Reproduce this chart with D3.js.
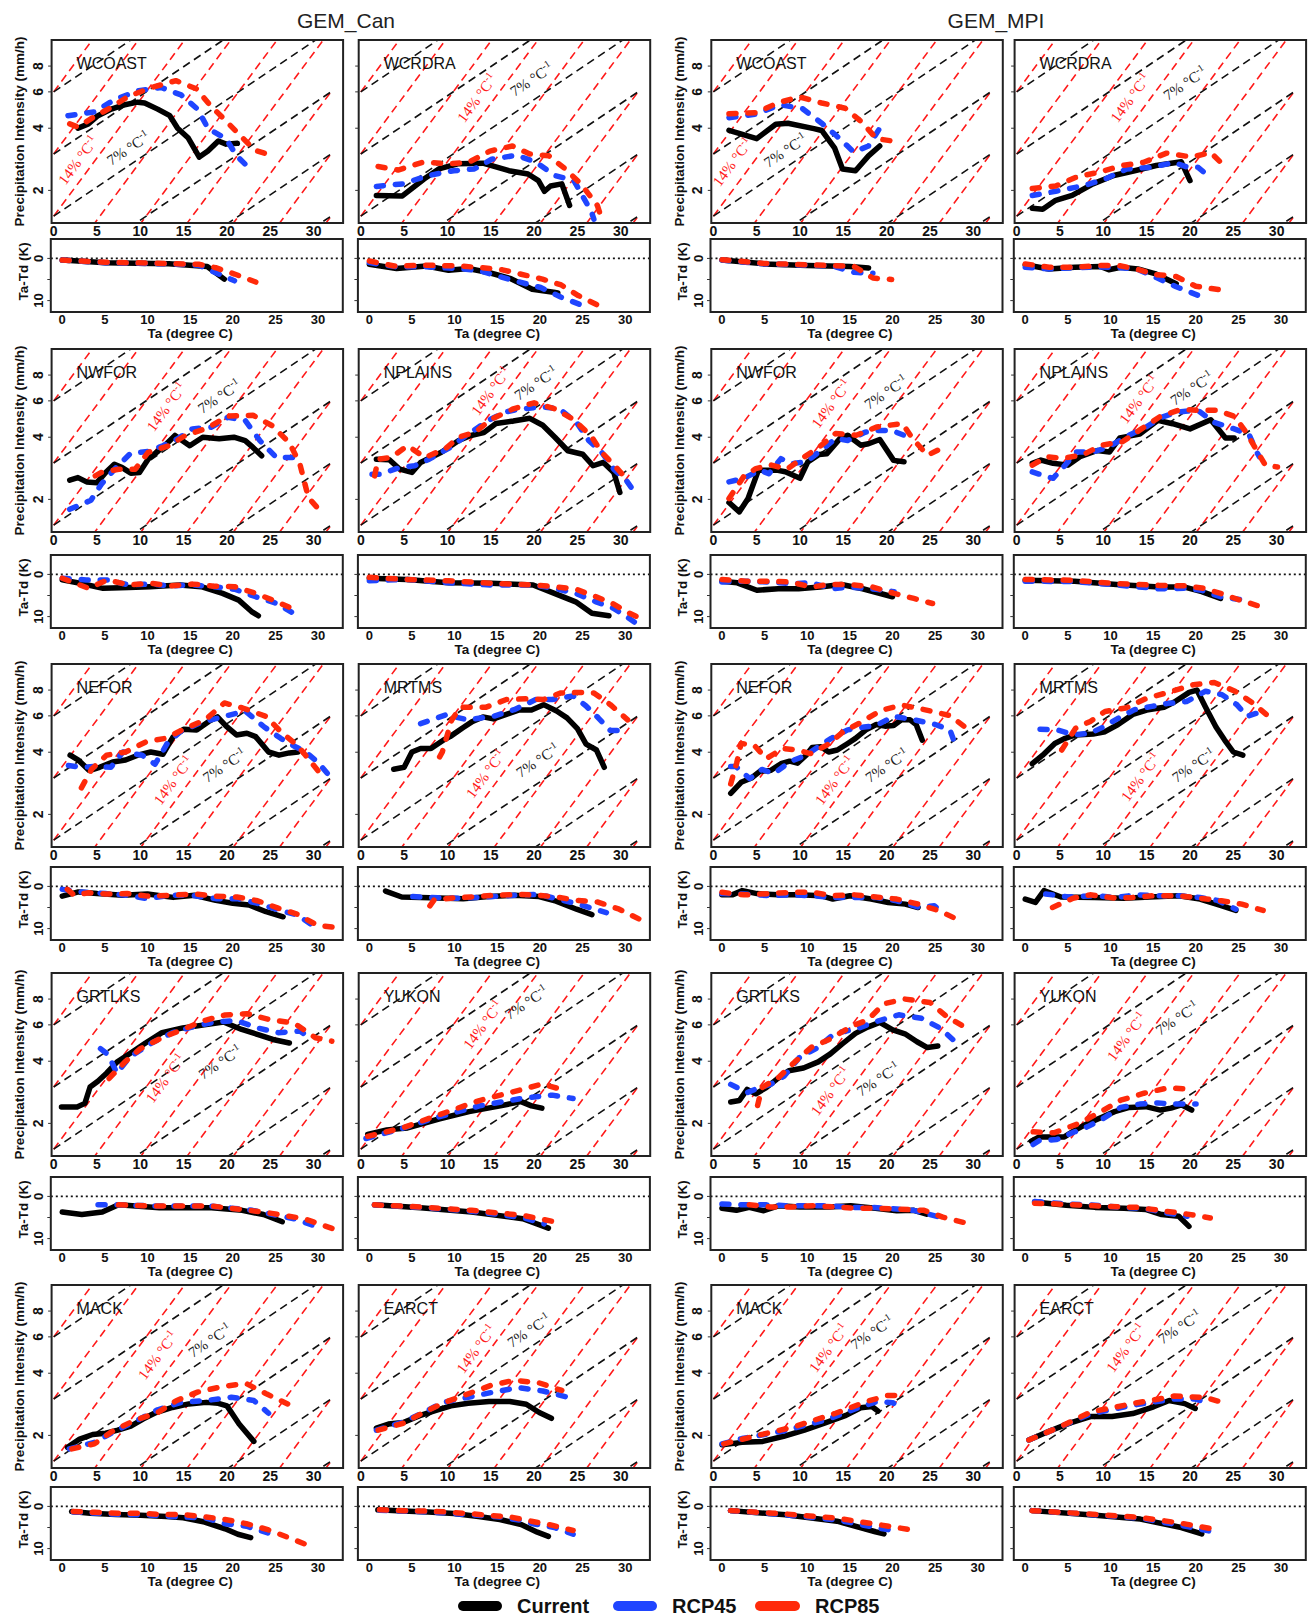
<!DOCTYPE html>
<html><head><meta charset="utf-8">
<script src="https://cdn.jsdelivr.net/npm/d3@7"></script>
<style>body{margin:0;background:#fff}</style>
</head><body><svg id="c" width="1310" height="1619"></svg>
<script>
// ---------------- DATA ----------------
const models = ["GEM_Can", "GEM_MPI"];
const regionRows = [["WCOAST","WCRDRA"],["NWFOR","NPLAINS"],["NEFOR","MRTMS"],["GRTLKS","YUKON"],["MACK","EARCT"]];
const seriesNames = ["Current", "RCP45", "RCP85"];
const xTicks = [0, 5, 10, 15, 20, 25, 30];
const yTicksMain = [2, 4, 6, 8];
const yTicksSub = [0, 5, 10];
const yTickLabelsSub = ["0", "", "10"];
// scaling reference lines: base intensity at 0 degC and doubling temperature
const refBase14 = [0.0117, 0.0234, 0.0469, 0.09375, 0.1875, 0.375, 0.75, 1.5, 3, 6];
const refBase7 = [0.09375, 0.1875, 0.375, 0.75, 1.5, 3, 6];
const refDoubling = {r14: 5.333, r7: 10.667};

// precipitation intensity [Ta, mm/h]; dew point depression [Ta, K]
// GEM_Can WCOAST
const canWCOAST_cur = [[2.8,4.0],[4.0,4.2],[5.1,4.6],[6.65,4.95],[8.2,5.2],[9.7,5.35],[10.5,5.3],[12.0,4.95],[13.4,4.6],[14.3,4.0],[15.5,3.6],[16.8,2.9],[17.8,3.1],[19.0,3.47],[19.9,3.35],[21.2,3.38]];
const canWCOAST_r45 = [[1.65,4.6],[4.7,4.8],[7.0,5.5],[9.7,6.07],[12.4,6.3],[14.7,5.8],[16.6,4.95],[17.8,4.0],[19.9,3.55],[21.1,2.95],[22.8,2.5]];
const canWCOAST_r85 = [[1.85,4.2],[2.8,4.05],[4.5,4.5],[6.65,5.05],[8.6,5.7],[11.3,6.3],[14.1,6.8],[16.5,6.2],[18.0,5.2],[19.5,4.5],[21.5,3.7],[23.2,3.13],[25.5,2.92]];
const canWCOAST_dCur = [[0,0.4],[5.1,1.0],[12.5,1.25],[17.0,1.9],[19.0,4.9]];
const canWCOAST_d45 = [[0,0.4],[5,1.0],[12.5,1.3],[16,1.6],[18,3.4],[20.2,5.3]];
const canWCOAST_d85 = [[0,0.4],[5,0.9],[12.5,1.2],[16,1.4],[18,2.2],[20.2,3.7],[22.7,5.6]];
// GEM_Can WCRDRA
const canWCRDRA_cur = [[1.8,1.89],[4.8,1.88],[7.3,2.27],[9.0,2.54],[11.2,2.69],[14.1,2.71],[17.1,2.49],[19.3,2.4],[20.5,2.23],[21.2,1.98],[21.9,2.1],[23.2,2.15],[24.1,1.69]];
const canWCRDRA_r45 = [[1.8,2.09],[4.8,2.15],[7.8,2.36],[10.7,2.49],[13.1,2.54],[15.1,2.83],[18.0,2.96],[20.2,2.74],[22.4,2.36],[24.6,2.23],[26.6,1.58],[26.9,1.45]];
const canWCRDRA_r85 = [[2.0,2.61],[4.3,2.51],[7.2,2.74],[10.2,2.69],[12.4,2.73],[14.9,3.1],[17.5,3.28],[19.5,3.0],[21.7,2.94],[23.6,2.54],[25.4,2.15],[27.3,1.69],[27.8,1.46]];
const canWCRDRA_dCur = [[0,1.4],[3.2,2.4],[6.7,1.8],[9.3,2.8],[11.6,2.4],[14.1,3.4],[16.6,4.8],[19.1,7.3],[21.6,8.0],[22.1,8.2]];
const canWCRDRA_d45 = [[0,1.0],[3.2,2.0],[6.7,2.0],[10.6,2.4],[13.1,3.0],[15.6,4.5],[17.8,5.7],[20.1,6.9],[22.5,9.2],[24.8,11.0]];
const canWCRDRA_d85 = [[0,0.6],[2.9,1.8],[6.7,1.6],[10.6,1.8],[13.1,2.2],[15.6,2.7],[17.8,3.75],[20.3,4.9],[22.5,6.3],[24.5,8.8],[27.0,11.3]];
// GEM_MPI WCOAST
const mpiWCOAST_cur = [[1.8,3.91],[5.0,3.56],[7.2,4.18],[8.6,4.23],[11.6,3.98],[12.5,3.9],[14.0,3.2],[14.9,2.54],[16.4,2.49],[17.9,2.94],[19.2,3.28]];
const mpiWCOAST_r45 = [[1.8,4.5],[4.8,4.67],[7.7,5.2],[10.3,4.97],[12.5,4.23],[14.2,3.68],[16.2,3.07],[17.9,3.28],[19.3,4.06]];
const mpiWCOAST_r85 = [[1.8,4.7],[5.0,4.76],[7.4,5.3],[9.9,5.68],[12.5,5.3],[15.2,5.0],[17.2,4.26],[18.8,3.56],[21.7,3.42]];
const mpiWCOAST_dCur = [[0,0.4],[5,1.3],[10,1.7],[15,1.9],[17.2,2.25]];
const mpiWCOAST_d45 = [[0,0.4],[5,1.3],[10,1.6],[13,1.8],[15.5,3.3],[17.7,3.5]];
const mpiWCOAST_d85 = [[0,0.3],[5,1.2],[10,1.5],[13,1.7],[15.5,1.9],[17.7,4.65],[19.9,5.0]];
// GEM_MPI WCRDRA
const mpiWCRDRA_cur = [[1.8,1.64],[3.0,1.62],[4.5,1.79],[6.4,1.89],[8.8,2.15],[11.2,2.36],[13.6,2.49],[16.1,2.64],[19.0,2.75],[20.0,2.23]];
const mpiWCRDRA_r45 = [[1.8,1.89],[4.5,1.98],[7.8,2.11],[10.2,2.27],[12.7,2.54],[15.6,2.59],[18.2,2.73],[19.7,2.59],[20.9,2.59],[22.6,2.27]];
const mpiWCRDRA_r85 = [[1.8,2.04],[4.5,2.1],[6.9,2.32],[9.5,2.45],[12.2,2.64],[14.6,2.73],[17.3,3.03],[20.2,2.9],[22.4,3.05],[24.3,2.54]];
const mpiWCRDRA_dCur = [[0,1.5],[2.8,2.5],[5.8,2.1],[8.8,1.9],[9.8,2.7],[11.2,2.1],[13.2,2.5],[15.2,3.6],[17.7,6.0]];
const mpiWCRDRA_d45 = [[0,2.1],[2.8,2.5],[5.8,2.2],[8.8,2.0],[11.2,2.2],[13.2,2.6],[15.2,4.4],[17.7,6.7],[20.2,8.7]];
const mpiWCRDRA_d85 = [[0,1.3],[2.8,2.1],[5.8,2.1],[8.8,1.7],[11,1.7],[13,2.5],[15.2,3.8],[17.7,4.3],[20,6.6],[22.7,7.4]];
// GEM_Can NWFOR
const canNWFOR_cur = [[1.85,2.48],[2.8,2.55],[3.8,2.43],[5.0,2.41],[6.0,2.70],[7.0,2.96],[7.9,2.85],[8.9,2.68],[9.9,2.70],[10.9,3.13],[12.1,3.44],[13.0,3.71],[14.0,4.08],[15.7,3.64],[17.2,4.0],[19.1,3.93],[20.8,4.0],[22.1,3.85],[23.0,3.57],[24.0,3.25]];
const canNWFOR_r45 = [[1.85,1.79],[4.3,1.98],[5.5,2.37],[7.2,2.85],[8.9,3.35],[10.9,3.41],[12.6,3.64],[14.3,3.93],[16.0,4.39],[18.2,4.47],[20.1,5.0],[22.1,4.82],[23.8,3.85],[25.7,3.19],[27.9,3.19]];
const canNWFOR_r85 = [[4.8,2.6],[5.5,2.70],[7.5,2.80],[9.4,2.80],[10.9,3.38],[13.3,3.64],[15.2,4.08],[17.7,4.43],[20.1,5.06],[23.0,5.11],[25.2,4.55],[27.2,3.76],[28.4,2.98],[28.9,2.46],[29.4,2.04],[30.8,1.75]];
const canNWFOR_dCur = [[0,1.3],[2.1,2.1],[4.8,3.3],[7.8,3.1],[10.3,2.9],[13.8,2.5],[16.3,2.9],[18.8,4.5],[20.7,6.1],[22.2,8.8],[23.0,9.8]];
const canNWFOR_d45 = [[0,0.9],[2.8,1.3],[5.3,1.3],[7.8,2.5],[10.3,2.3],[12.8,2.7],[15.3,2.5],[17.8,2.9],[20.2,3.5],[22.7,5.3],[25.2,6.9],[27.0,9.1]];
const canNWFOR_d85 = [[0,0.9],[3.1,3.3],[5.3,1.3],[7.8,2.5],[10.3,2.1],[12.8,2.7],[15.3,2.3],[17.8,2.8],[20.2,2.9],[22.7,4.5],[24.7,6.1],[27.2,8.3]];
// GEM_Can NPLAINS
const canNPLAINS_cur = [[1.8,3.13],[3.3,3.11],[4.5,2.80],[5.9,2.70],[6.9,3.02],[9.3,3.38],[11.3,3.86],[12.7,4.08],[14.2,4.21],[15.6,4.66],[17.6,4.79],[19.5,4.94],[21.0,4.57],[22.4,4.0],[23.9,3.44],[25.6,3.31],[26.8,2.91],[28.0,3.02],[29.2,2.70],[29.9,2.16]];
const canNPLAINS_r45 = [[1.3,2.65],[2.2,2.65],[4.5,2.85],[6.2,2.91],[7.9,3.13],[10.3,3.57],[12.2,4.08],[14.7,4.82],[16.6,5.29],[18.5,5.49],[21.0,5.6],[22.9,5.49],[24.9,4.72],[26.3,3.86],[27.8,3.38],[29.2,2.80],[30.7,2.45],[31.9,2.08]];
const canNPLAINS_r85 = [[1.6,2.6],[2.0,3.13],[3.5,3.19],[5.4,3.64],[7.4,3.19],[9.8,3.53],[11.3,4.0],[13.2,4.23],[15.1,4.9],[17.6,5.49],[20.0,5.87],[22.4,5.49],[24.6,4.86],[26.6,4.04],[27.8,3.38],[29.5,2.85],[30.9,2.45]];
const canNPLAINS_dCur = [[0,0.9],[4.4,1.2],[9.3,2.0],[14.3,2.1],[19.2,2.5],[21.7,4.5],[24.2,6.5],[26.1,9.2],[28.1,9.8]];
const canNPLAINS_d45 = [[0,1.5],[4.4,1.2],[9.3,2.0],[14.3,2.5],[19.2,2.5],[21.7,3.3],[24.2,4.5],[26.6,6.5],[28.6,8.0],[30.3,10.2],[31.6,12.0]];
const canNPLAINS_d85 = [[0,0.7],[4.4,1.2],[9.3,1.5],[14.3,2.1],[19.2,2.5],[21.7,2.9],[24.2,3.5],[26.6,5.3],[28.6,7.0],[30.1,8.8],[32.3,10.9]];
// GEM_MPI NWFOR
const mpiNWFOR_cur = [[1.8,1.93],[3.0,1.74],[4.0,2.02],[5.2,2.77],[7.3,2.77],[8.3,2.72],[10.0,2.53],[10.9,3.04],[12.2,3.3],[13.1,3.33],[14.6,3.94],[15.5,4.09],[17.0,3.66],[17.9,3.72],[19.2,3.90],[20.8,3.09],[22.0,3.04]];
const mpiNWFOR_r45 = [[1.8,2.43],[3.5,2.53],[5.4,2.77],[6.4,2.66],[7.8,3.15],[9.0,2.98],[10.7,3.04],[12.4,3.45],[14.1,3.94],[15.5,3.86],[17.5,4.23],[18.9,4.31],[20.6,4.31],[22.8,3.97]];
const mpiNWFOR_r85 = [[1.8,2.02],[3.5,2.58],[4.9,2.82],[6.6,2.94],[8.5,2.80],[10.2,3.15],[12.2,3.58],[14.1,4.17],[16.5,4.09],[18.9,4.49],[21.8,4.66],[23.0,3.94],[24.7,3.27],[26.9,3.63]];
const mpiNWFOR_dCur = [[0,1.6],[1.8,2.0],[4.1,3.75],[6.6,3.4],[9.0,3.4],[11.5,3.0],[14.0,2.4],[16.5,3.4],[20.0,5.3]];
const mpiNWFOR_d45 = [[0,1.8],[2.6,1.6],[5.5,1.8],[8,2.2],[10.5,2.0],[13,3.4],[15,3.0],[17.5,3.4],[20.2,4.1]];
const mpiNWFOR_d85 = [[0,1.2],[2.8,1.6],[5.3,1.6],[8,1.8],[10.5,3.0],[12.5,2.4],[15,2.4],[17.7,3.0],[20.2,4.5],[22.5,5.7],[24.7,6.9]];
// GEM_MPI NPLAINS
const mpiNPLAINS_cur = [[1.8,2.99],[2.8,3.1],[4.2,2.99],[5.9,2.93],[7.3,3.22],[9.3,3.45],[10.7,3.39],[11.9,3.97],[14.2,4.14],[16.3,4.83],[18.0,4.65],[20.0,4.39],[22.4,4.86],[24.1,3.97],[25.1,3.97]];
const mpiNPLAINS_r45 = [[1.8,2.72],[3.2,2.6],[4.2,2.53],[5.4,2.87],[6.9,3.39],[8.8,3.39],[10.7,3.60],[12.7,4.05],[14.6,4.39],[16.6,4.97],[18.5,5.3],[20.9,5.4],[22.8,4.72],[25.1,4.39],[26.8,4.14],[27.7,3.39],[28.0,3.22]];
const mpiNPLAINS_r85 = [[1.8,2.93],[3.5,3.22],[5.2,3.16],[7.6,3.28],[9.8,3.66],[12.2,3.80],[14.4,4.39],[16.6,5.05],[19.0,5.46],[20.9,5.4],[23.1,5.4],[25.1,5.05],[26.5,4.22],[27.7,3.45],[28.7,2.93],[30.1,2.87]];
const mpiNPLAINS_dCur = [[0,1.4],[5.8,1.6],[10.7,2.4],[15.7,3.0],[18.7,3.0],[20.7,4.1],[22.9,5.7]];
const mpiNPLAINS_d45 = [[0,1.6],[5.8,1.7],[10.7,2.5],[15.7,3.4],[18.7,3.3],[20.7,3.75],[22.9,5.3],[25.7,6.1]];
const mpiNPLAINS_d85 = [[0,1.2],[5.8,1.4],[10.7,2.2],[15.7,2.6],[18.7,2.7],[20.7,3.2],[22.9,4.5],[25.2,6.1],[27.7,7.7]];
// GEM_Can NEFOR
const canNEFOR_cur = [[1.9,3.87],[2.9,3.65],[4.1,3.26],[5.3,3.38],[6.8,3.59],[8.3,3.67],[9.7,3.87],[11.2,4.01],[12.6,3.91],[13.8,4.76],[15.0,5.17],[16.5,5.13],[17.9,5.64],[18.9,5.93],[19.9,5.35],[21.1,4.85],[22.3,4.94],[23.3,4.76],[24.8,4.01],[26.0,3.87],[27.2,3.97],[28.2,4.01]];
const canNEFOR_r45 = [[1.7,3.45],[3.2,3.38],[4.6,3.41],[6.6,3.38],[8.0,4.01],[10.2,3.87],[11.7,3.5],[13.1,4.41],[14.6,5.03],[17.0,5.57],[19.7,5.97],[22.1,6.33],[24.3,5.3],[26.2,4.67],[27.9,4.25],[29.1,4.01],[30.6,3.54],[31.8,3.08]];
const canNEFOR_r85 = [[3.2,2.69],[4.4,3.32],[6.1,3.87],[8.3,4.01],[10.7,4.5],[12.9,4.67],[15.0,5.17],[17.5,5.74],[19.7,6.93],[21.8,6.55],[24.5,5.97],[26.2,5.03],[28.2,4.28],[29.8,3.54],[31.1,3.03]];
const canNEFOR_dCur = [[0,2.3],[1.9,1.3],[4.1,1.7],[7.1,2.1],[10.0,1.8],[13.0,2.6],[15.5,2.1],[18.0,3.3],[20.0,4.0],[21.9,4.4],[23.9,6.0],[25.9,7.2]];
const canNEFOR_d45 = [[0,0.7],[2.1,1.3],[5.1,1.7],[7.6,2.1],[10.0,2.9],[12.6,2.1],[15.1,2.1],[18.0,2.9],[20.5,2.9],[22.9,4.0],[25.4,5.6],[27.6,6.8],[29.9,10.0]];
const canNEFOR_d85 = [[0.6,0.7],[1.4,2.1],[3.1,1.5],[5.1,1.8],[7.6,1.7],[10,2.3],[12.8,2.1],[15.5,1.8],[18,2.3],[20.5,2.5],[22.9,3.4],[25.4,5.2],[27.6,6.6],[29.9,9.2],[32.3,9.8]];
// GEM_Can MRTMS
const canMRTMS_cur = [[3.8,3.31],[5.0,3.38],[5.9,4.01],[6.9,4.17],[8.1,4.17],[9.6,4.6],[10.3,4.76],[11.7,5.23],[12.9,5.64],[14.1,5.93],[15.3,5.8],[16.8,6.1],[18.2,6.4],[19.7,6.4],[21.1,6.8],[22.6,6.33],[23.8,5.87],[25.0,5.2],[26.0,4.38],[27.2,4.1],[28.1,3.38]];
const canMRTMS_r45 = [[6.9,5.5],[9.8,6.06],[12.4,5.74],[15.3,5.97],[17.7,6.43],[20.2,7.2],[22.1,7.2],[24.5,7.5],[26.0,6.7],[27.4,5.87],[28.8,5.1],[30.0,5.1]];
const canMRTMS_r85 = [[9.1,3.8],[9.4,4.0],[10.5,5.74],[11.5,6.6],[14.4,6.6],[16.8,7.2],[19.2,7.26],[21.1,7.2],[23.1,7.75],[25.7,7.8],[26.9,7.75],[28.8,6.8],[30.8,5.74]];
const canMRTMS_dCur = [[1.9,1.1],[3.8,2.5],[7.1,2.7],[11.0,2.9],[14.0,2.4],[17.0,2.1],[19.9,2.4],[21.9,3.5],[24.3,5.4],[26.1,6.7]];
const canMRTMS_d45 = [[5.1,2.4],[8.0,2.7],[11,2.8],[14.5,2.4],[17,2.1],[19.9,1.9],[21.9,2.9],[24.3,4.1],[27.8,6.2]];
const canMRTMS_d85 = [[7.1,4.6],[7.6,3.2],[9.9,2.7],[11.9,2.5],[14.8,2.1],[17.8,1.9],[19.9,2.1],[21.9,2.5],[24.3,3.3],[26.8,3.7],[29.3,5.4],[31.7,7.8]];
// GEM_MPI NEFOR
const mpiNEFOR_cur = [[2.0,2.53],[3.2,2.86],[4.4,3.0],[5.4,3.24],[6.6,3.26],[7.8,3.52],[8.8,3.62],[9.7,3.54],[10.7,3.87],[11.4,4.22],[12.4,4.25],[13.3,4.01],[14.3,4.1],[15.5,4.41],[16.4,4.67],[17.6,5.13],[18.8,5.45],[19.8,5.35],[20.8,5.39],[21.7,5.74],[22.7,5.74],[23.4,5.45],[24.1,4.58]];
const mpiNEFOR_r45 = [[2.0,3.41],[2.6,3.41],[4.2,2.98],[5.6,3.3],[7.0,3.15],[8.8,3.59],[10.7,3.87],[12.1,4.25],[13.6,4.67],[15.5,5.13],[17.4,5.3],[18.8,5.39],[20.8,5.97],[23.2,5.74],[25.6,5.45],[27.3,5.13],[28.0,4.26]];
const mpiNEFOR_r85 = [[2.0,2.81],[2.7,3.56],[3.2,4.41],[4.7,4.33],[6.1,3.72],[8.0,4.17],[9.7,4.1],[11.2,3.94],[13.1,4.33],[15.0,5.03],[16.9,5.54],[19.3,6.37],[21.7,6.77],[24.6,6.4],[27.3,6.02],[29.2,5.23]];
const mpiNEFOR_dCur = [[0,2.0],[1.2,2.0],[2.4,1.0],[4.1,1.7],[6.6,2.0],[9.1,2.0],[11.6,2.2],[13.0,3.0],[15.0,2.2],[17.5,3.0],[19.5,3.8],[21.5,4.2],[23.0,5.0]];
const mpiNEFOR_d45 = [[0,1.7],[2.6,1.8],[5.6,2.2],[8.1,2.0],[10.6,2.2],[13,2.6],[15.5,2.6],[18,2.6],[20.5,3.4],[23,4.9],[24.9,4.6],[25.7,5.8]];
const mpiNEFOR_d85 = [[0,1.4],[2.6,2.0],[5.6,1.7],[8.1,1.4],[10.6,1.4],[13,2.2],[15.5,2.0],[18,2.5],[20.5,3.0],[23,4.2],[25.4,5.7],[27.9,8.1]];
// GEM_MPI MRTMS
const mpiMRTMS_cur = [[1.8,3.52],[3.0,3.87],[4.4,4.41],[5.6,4.67],[6.8,4.85],[8.8,4.9],[10.2,5.03],[11.7,5.45],[13.4,6.1],[15.0,6.4],[17.0,6.6],[18.2,7.0],[19.9,7.8],[20.8,8.0],[21.8,6.6],[23.0,5.3],[24.0,4.58],[25.0,4.01],[26.1,3.87]];
const mpiMRTMS_r45 = [[2.7,5.17],[4.7,5.13],[6.6,4.85],[8.5,4.95],[10.0,5.3],[11.7,5.84],[13.6,6.43],[15.6,6.67],[17.5,6.9],[19.6,7.04],[21.8,7.9],[23.7,7.6],[25.4,6.8],[26.6,5.97],[27.8,6.2]];
const mpiMRTMS_r85 = [[5.2,4.1],[6.8,5.23],[8.5,5.64],[10.2,6.3],[12.6,6.55],[15.0,7.3],[17.5,7.8],[20.4,8.5],[22.8,8.7],[25.2,7.9],[27.3,6.9],[29.5,5.75]];
const mpiMRTMS_dCur = [[0,3.0],[1.2,3.8],[2.2,1.0],[4.2,2.5],[8.1,2.6],[11.6,2.8],[14.6,2.5],[18.0,2.2],[20.5,3.0],[22.7,4.4],[24.7,5.7]];
const mpiMRTMS_d45 = [[2.4,1.8],[5.1,2.5],[8.1,2.2],[10.6,2.6],[13.1,2.0],[15.6,2.2],[18,2.2],[20.5,2.6],[22.5,3.3],[24.7,5.4]];
const mpiMRTMS_d85 = [[3.2,5.0],[5.6,2.8],[7.6,2.0],[10.6,2.8],[12.6,2.6],[15.1,2.2],[18,2.2],[20.5,2.8],[23,3.4],[25.4,4.2],[27.9,5.7]];
// GEM_Can GRTLKS
const canGRTLKS_cur = [[0.9,2.4],[2.7,2.4],[3.6,2.5],[4.2,3.0],[5.1,3.2],[6.1,3.5],[7.3,3.96],[8.8,4.36],[10.6,4.9],[12.5,5.5],[14.9,5.8],[17.4,6.0],[19.6,6.2],[21.7,5.7],[23.5,5.4],[25.3,5.1],[27.2,4.9]];
const canGRTLKS_r45 = [[5.4,4.6],[6.3,4.3],[7.3,3.5],[8.8,4.2],[11.3,4.9],[13.7,5.5],[16.2,5.9],[18.6,6.2],[21.1,6.3],[23.5,5.8],[25.9,5.5],[28.4,5.6],[29.6,5.2]];
const canGRTLKS_r85 = [[6.4,3.3],[8.2,3.96],[10.0,4.6],[12.5,5.2],[14.9,5.7],[17.4,6.3],[19.8,6.7],[22.3,6.8],[24.7,6.4],[27.8,6.1],[30.2,5.2],[32.1,5.0]];
const canGRTLKS_dCur = [[0,3.7],[2.3,4.3],[4.7,3.7],[6.6,2.0],[11.4,2.7],[17.5,2.7],[21.1,3.3],[23.6,4.3],[25.8,6.0]];
const canGRTLKS_d45 = [[4.2,2.0],[6.6,2.0],[11.4,2.3],[17.5,2.3],[22.3,3.3],[27.2,5.3],[29.6,7.0]];
const canGRTLKS_d85 = [[6.6,2.0],[11.4,2.3],[17.5,2.3],[23.6,3.7],[28.4,5.3],[31.8,7.7]];
// GEM_Can YUKON
const canYUKON_cur = [[0.8,1.77],[3.0,1.86],[5.4,1.90],[9.0,2.1],[12.5,2.28],[16.1,2.43],[18.5,2.55],[19.7,2.43],[20.9,2.37]];
const canYUKON_r45 = [[0.6,1.69],[4.2,1.86],[9.0,2.15],[13.7,2.43],[18.5,2.64],[22.1,2.74],[24.5,2.64]];
const canYUKON_r85 = [[0.8,1.73],[4.8,1.9],[9.0,2.2],[13.7,2.58],[18.5,2.91],[20.9,3.1],[23.3,2.91]];
const canYUKON_dCur = [[0.6,2.0],[6,2.7],[12,3.7],[18,5.3],[21,7.5]];
const canYUKON_d45 = [[0.6,2.0],[6,2.6],[12,3.5],[18,5.0],[20.5,6.5]];
const canYUKON_d85 = [[0.6,2.0],[6,2.5],[12,3.3],[18,4.5],[21.7,6.0]];
// GEM_MPI GRTLKS
const mpiGRTLKS_cur = [[2.0,2.54],[3.0,2.58],[3.9,2.92],[4.9,2.78],[6.1,2.98],[7.3,3.27],[8.7,3.6],[10.4,3.71],[12.1,3.97],[13.5,4.34],[14.9,4.86],[16.4,5.46],[17.8,5.85],[19.2,6.17],[20.7,5.68],[22.1,5.43],[23.5,4.97],[24.7,4.66],[25.9,4.74]];
const mpiGRTLKS_r45 = [[2.0,3.09],[3.9,2.82],[5.3,2.98],[6.6,3.09],[8.2,3.4],[9.9,4.16],[12.1,4.67],[14.0,5.46],[16.4,5.72],[18.8,6.23],[21.4,6.71],[24.0,6.46],[26.2,5.78],[28.1,4.89],[28.3,4.7]];
const mpiGRTLKS_r85 = [[5.1,2.44],[5.6,2.98],[7.5,3.33],[9.4,3.97],[11.3,4.67],[13.5,5.13],[15.9,5.9],[17.8,6.34],[19.7,7.6],[22.1,8.0],[25.0,7.7],[26.9,6.6],[29.0,5.85]];
const mpiGRTLKS_dCur = [[0,2.8],[1.7,3.3],[3.2,2.6],[4.9,3.4],[6.7,2.2],[9.1,2.5],[12.6,2.5],[15.1,2.2],[18.0,2.8],[20.5,3.4],[22.5,3.3],[24.0,4.2]];
const mpiGRTLKS_d45 = [[0,1.8],[2.7,2.0],[5.2,2.0],[7.7,2.2],[10.2,2.2],[12.7,2.2],[15.2,2.6],[17.7,2.6],[20.5,3.0],[22.5,3.3],[25.5,4.9]];
const mpiGRTLKS_d85 = [[3.2,2.0],[5.7,2.5],[8.2,2.5],[10.7,2.2],[13.2,2.5],[15.7,2.8],[18.2,2.8],[20.7,3.0],[23.7,3.3],[25.9,4.9],[28.4,6.2]];
// GEM_MPI YUKON
const mpiYUKON_cur = [[1.7,1.64],[2.6,1.72],[4.3,1.72],[5.5,1.72],[6.7,1.85],[8.2,2.0],[9.9,2.15],[11.3,2.28],[13.0,2.39],[14.9,2.41],[16.6,2.32],[17.8,2.37],[19.0,2.46],[20.2,2.32]];
const mpiYUKON_r45 = [[1.9,1.58],[2.6,1.65],[4.6,1.67],[6.7,1.82],[8.2,1.93],[9.9,2.1],[12.0,2.39],[14.2,2.48],[16.3,2.51],[18.3,2.48],[20.7,2.48]];
const mpiYUKON_r85 = [[1.9,1.82],[4.3,1.8],[7.2,2.0],[9.4,2.24],[12.0,2.59],[14.7,2.8],[17.6,2.98],[20.4,2.91]];
const mpiYUKON_dCur = [[1.1,1.3],[4.8,2.1],[8.2,2.6],[11.6,2.8],[14.1,3.1],[16.0,4.3],[18.0,4.7],[19.2,7.1]];
const mpiYUKON_d45 = [[1.1,1.2],[4.8,1.8],[8.2,2.1],[11.6,2.6],[14.1,2.9],[16.5,3.9],[19.0,4.7]];
const mpiYUKON_d85 = [[1.1,1.6],[3.8,1.8],[7.2,2.1],[10.1,2.4],[13.1,2.6],[16.1,3.4],[19.0,4.2],[21.7,5.1]];
// GEM_Can MACK
const canMACK_cur = [[1.6,1.75],[3.0,1.92],[4.5,2.02],[6.0,2.05],[7.4,2.12],[8.9,2.22],[10.3,2.4],[11.8,2.58],[13.7,2.73],[15.6,2.84],[17.6,2.89],[19.0,2.86],[20.0,2.78],[21.4,2.27],[23.1,1.87]];
const canMACK_r45 = [[1.8,1.72],[4.7,1.85],[7.2,2.11],[9.6,2.36],[12.0,2.66],[14.7,2.89],[17.6,2.95],[20.5,3.06],[23.1,2.95],[24.8,2.56]];
const canMACK_r85 = [[2.1,1.72],[4.7,1.82],[6.9,2.11],[9.3,2.36],[12.0,2.58],[14.2,2.95],[16.6,3.24],[19.5,3.45],[22.2,3.57],[24.6,3.17],[27.0,2.84]];
const canMACK_dCur = [[1.1,1.2],[3.3,1.6],[6.3,1.9],[9.2,2.1],[12.2,2.4],[14.2,2.7],[16.7,3.7],[19.1,5.3],[20.6,6.6],[22.1,7.4]];
const canMACK_d45 = [[1.3,1.3],[4,1.6],[7,1.9],[10,2.0],[13,2.4],[14.2,2.5],[16.7,2.7],[19.1,4.1],[21.6,4.7],[24.1,6.3]];
const canMACK_d85 = [[1.3,1.2],[3.8,1.4],[6.5,1.6],[9.0,1.6],[11.5,1.9],[14,1.9],[16.5,2.4],[19.1,3.1],[21.6,4.1],[24.1,5.5],[26.3,7.2],[28.8,9.2]];
// GEM_Can EARCT
const canEARCT_cur = [[1.8,2.17],[3.2,2.27],[4.9,2.31],[6.8,2.49],[8.5,2.63],[10.4,2.78],[12.4,2.86],[14.8,2.92],[17.2,2.92],[19.1,2.83],[20.6,2.58],[22.0,2.42]];
const canEARCT_r45 = [[1.8,2.12],[4.7,2.31],[7.1,2.56],[9.5,2.89],[12.4,3.06],[15.3,3.24],[18.2,3.41],[21.0,3.28],[23.9,3.06]];
const canEARCT_r85 = [[2.0,2.12],[4.9,2.29],[7.3,2.59],[9.7,2.89],[12.4,3.18],[15.0,3.49],[17.7,3.7],[20.6,3.59],[23.2,3.3]];
const canEARCT_dCur = [[1.0,0.8],[3.9,1.1],[6.9,1.3],[9.9,1.7],[12.8,2.4],[15.3,3.1],[17.8,4.3],[19.7,6.1],[21.0,7.1]];
const canEARCT_d45 = [[1.2,0.9],[4,1.1],[7,1.3],[10,1.7],[12.8,2.1],[15.3,2.5],[17.8,3.3],[19.2,4.1],[21.7,5.0],[23.9,6.6]];
const canEARCT_d85 = [[1.2,0.8],[4,1.0],[6.4,1.1],[8.9,1.3],[11.6,1.7],[14,2.1],[16.5,2.5],[19,3.5],[21.5,4.5],[23.9,5.7]];
// GEM_MPI MACK
const mpiMACK_cur = [[1.0,1.8],[3.3,1.85],[5.7,1.87],[8.1,1.98],[10.5,2.12],[12.9,2.3],[15.3,2.5],[17.0,2.72],[18.3,2.76],[19.0,2.62]];
const mpiMACK_r45 = [[1.0,1.82],[3.3,1.93],[8.1,2.1],[12.9,2.37],[16.5,2.7],[18.9,2.92],[20.7,2.88],[21.3,2.78]];
const mpiMACK_r85 = [[1.2,1.82],[4.5,1.97],[9.3,2.2],[14.1,2.56],[17.7,2.92],[20.1,3.12],[22.0,3.12]];
const mpiMACK_dCur = [[1,1],[7.5,2],[13.5,3.5],[18,6],[19,6.5]];
const mpiMACK_d45 = [[1,1],[7.5,2],[13.5,3.2],[18,5],[19.5,5.5]];
const mpiMACK_d85 = [[1,1],[7.5,1.8],[13.5,2.8],[18,4.2],[22,5.5]];
// GEM_MPI EARCT
const mpiEARCT_cur = [[1.4,1.9],[3.8,2.1],[6.2,2.3],[8.6,2.47],[11,2.47],[13.4,2.55],[15.8,2.75],[17.6,2.95],[19.4,2.85],[20.6,2.7]];
const mpiEARCT_r45 = [[1.4,1.9],[5,2.2],[8.6,2.55],[13.4,2.8],[18.2,3.0],[20.6,3.0],[21.8,2.9]];
const mpiEARCT_r85 = [[1.4,1.9],[5,2.2],[8.6,2.6],[13.4,2.85],[18.2,3.1],[21.8,3.05],[23.6,2.9]];
const mpiEARCT_dCur = [[0.8,1],[7.5,2],[13.5,3],[18.3,5],[20.7,6.5]];
const mpiEARCT_d45 = [[0.8,1],[7.5,1.9],[13.5,2.8],[18.3,4.5],[22,6]];
const mpiEARCT_d85 = [[0.8,1],[7.5,1.8],[13.5,2.6],[18.3,4],[22.5,5.5]];

// label anchor points [Ta, mm/h] for the 14% and 7% annotations, row-major over the 4 columns
const lab14 = [[2.8,2.8],[13.4,5.6],[2.2,2.74],[13.1,5.6],
               [13.0,5.6],[15.0,6.7],[13.6,5.8],[14.1,6.1],
               [13.8,2.92],[14.4,3.14],[14.0,2.92],[14.3,3.03],
               [12.9,3.3],[14.1,6.0],[13.5,2.86],[12.7,5.26],
               [12.0,4.88],[13.3,5.24],[13.3,5.3],[12.6,5.3]];
const lab7 = [[8.6,3.2],[19.7,6.9],[8.3,3.12],[19.4,6.6],
              [19.1,6.3],[20.2,7.3],[19.9,6.6],[20.2,6.9],
              [19.7,3.45],[20.4,3.65],[20.0,3.45],[20.4,3.45],
              [19.2,3.96],[19.1,7.7],[19.0,3.27],[18.5,6.46],
              [18.0,5.76],[19.4,6.44],[18.3,6.3],[18.8,6.7]];

// ---------------- TABLE ----------------
const panelData = {
  "0WCOAST":[canWCOAST_cur,canWCOAST_r45,canWCOAST_r85,canWCOAST_dCur,canWCOAST_d45,canWCOAST_d85],
  "0WCRDRA":[canWCRDRA_cur,canWCRDRA_r45,canWCRDRA_r85,canWCRDRA_dCur,canWCRDRA_d45,canWCRDRA_d85],
  "1WCOAST":[mpiWCOAST_cur,mpiWCOAST_r45,mpiWCOAST_r85,mpiWCOAST_dCur,mpiWCOAST_d45,mpiWCOAST_d85],
  "1WCRDRA":[mpiWCRDRA_cur,mpiWCRDRA_r45,mpiWCRDRA_r85,mpiWCRDRA_dCur,mpiWCRDRA_d45,mpiWCRDRA_d85],
  "0NWFOR":[canNWFOR_cur,canNWFOR_r45,canNWFOR_r85,canNWFOR_dCur,canNWFOR_d45,canNWFOR_d85],
  "0NPLAINS":[canNPLAINS_cur,canNPLAINS_r45,canNPLAINS_r85,canNPLAINS_dCur,canNPLAINS_d45,canNPLAINS_d85],
  "1NWFOR":[mpiNWFOR_cur,mpiNWFOR_r45,mpiNWFOR_r85,mpiNWFOR_dCur,mpiNWFOR_d45,mpiNWFOR_d85],
  "1NPLAINS":[mpiNPLAINS_cur,mpiNPLAINS_r45,mpiNPLAINS_r85,mpiNPLAINS_dCur,mpiNPLAINS_d45,mpiNPLAINS_d85],
  "0NEFOR":[canNEFOR_cur,canNEFOR_r45,canNEFOR_r85,canNEFOR_dCur,canNEFOR_d45,canNEFOR_d85],
  "0MRTMS":[canMRTMS_cur,canMRTMS_r45,canMRTMS_r85,canMRTMS_dCur,canMRTMS_d45,canMRTMS_d85],
  "1NEFOR":[mpiNEFOR_cur,mpiNEFOR_r45,mpiNEFOR_r85,mpiNEFOR_dCur,mpiNEFOR_d45,mpiNEFOR_d85],
  "1MRTMS":[mpiMRTMS_cur,mpiMRTMS_r45,mpiMRTMS_r85,mpiMRTMS_dCur,mpiMRTMS_d45,mpiMRTMS_d85],
  "0GRTLKS":[canGRTLKS_cur,canGRTLKS_r45,canGRTLKS_r85,canGRTLKS_dCur,canGRTLKS_d45,canGRTLKS_d85],
  "0YUKON":[canYUKON_cur,canYUKON_r45,canYUKON_r85,canYUKON_dCur,canYUKON_d45,canYUKON_d85],
  "1GRTLKS":[mpiGRTLKS_cur,mpiGRTLKS_r45,mpiGRTLKS_r85,mpiGRTLKS_dCur,mpiGRTLKS_d45,mpiGRTLKS_d85],
  "1YUKON":[mpiYUKON_cur,mpiYUKON_r45,mpiYUKON_r85,mpiYUKON_dCur,mpiYUKON_d45,mpiYUKON_d85],
  "0MACK":[canMACK_cur,canMACK_r45,canMACK_r85,canMACK_dCur,canMACK_d45,canMACK_d85],
  "0EARCT":[canEARCT_cur,canEARCT_r45,canEARCT_r85,canEARCT_dCur,canEARCT_d45,canEARCT_d85],
  "1MACK":[mpiMACK_cur,mpiMACK_r45,mpiMACK_r85,mpiMACK_dCur,mpiMACK_d45,mpiMACK_d85],
  "1EARCT":[mpiEARCT_cur,mpiEARCT_r45,mpiEARCT_r85,mpiEARCT_dCur,mpiEARCT_d45,mpiEARCT_d85]
};

// ---------------- LAYOUT ----------------
const mainTops = [40, 349, 664, 973, 1285];
const subTops = [239, 555, 867, 1177, 1487];
const colLefts = [51.6, 358.7, 711.3, 1014.6];
const mainW = 291.5, mainH = 183, subW = 292, subH = 73;
const titleX = [346, 996];
const colors = ["#000000", "#1f45ff", "#ff2a0a"];
const SANS = "'Liberation Sans', Arial, sans-serif";
const SERIF = "'Liberation Serif', 'Times New Roman', serif";

const svg = d3.select("#c");
svg.append("rect").attr("width",1310).attr("height",1619).attr("fill","#fff");
const defs = svg.append("defs");

models.forEach((m, i) => {
  svg.append("text").attr("x", titleX[i]).attr("y", 28).attr("text-anchor","middle")
    .attr("font-family", SANS).attr("font-size", 21).attr("fill","#222").text(m);
});

function drawSeries(g, data, sx, sy, idx, clipId) {
  const line = d3.line().x(d => sx(d[0])).y(d => sy(d[1]));
  const p = g.append("path").attr("d", line(data)).attr("fill","none")
    .attr("stroke", colors[idx]).attr("stroke-linejoin","round").attr("stroke-linecap","round")
    .attr("clip-path", `url(#${clipId})`);
  if (idx === 0) p.attr("stroke-width", 5.5);
  else p.attr("stroke-width", 5.5).attr("stroke-dasharray","7,12");
}

let pid = 0;
regionRows.forEach((pair, row) => {
  for (let col = 0; col < 4; col++) {
    const model = col < 2 ? 0 : 1;
    const region = pair[col % 2];
    const D = panelData[model + region];
    const k = row * 4 + col;
    const L = colLefts[col], T = mainTops[row];
    const g = svg.append("g");
    // ---- main plot ----
    const sx = d3.scaleLinear().domain([-0.24, 33.4]).range([L, L + mainW]);
    const sy = d3.scaleLog().domain([1.39, 10.7]).range([T + mainH, T]);
    const cid = "clip" + (pid++);
    defs.append("clipPath").attr("id", cid).append("rect")
      .attr("x", L).attr("y", T).attr("width", mainW).attr("height", mainH);
    const refG = g.append("g").attr("clip-path", `url(#${cid})`);
    [[refBase14, refDoubling.r14, "#ff1a1a"], [refBase7, refDoubling.r7, "#111"]].forEach(([bases, dbl, col2]) => {
      bases.forEach(b => {
        const pts = [[0, b], [32, b * Math.pow(2, 32 / dbl)]];
        refG.append("path").attr("d", d3.line().x(d => sx(d[0])).y(d => sy(d[1]))(pts))
          .attr("fill","none").attr("stroke", col2).attr("stroke-width", 1.6).attr("stroke-dasharray","8,5");
      });
    });
    // annotations
    const ang = (dbl) => {
      const dx = sx(10) - sx(0);
      const dy = sy(2) - sy(2 * Math.pow(2, 10 / dbl));
      return -Math.atan2(dy, dx) * 180 / Math.PI;
    };
    [[lab14[k], "14% °C", "#ff1a1a", ang(refDoubling.r14)], [lab7[k], "7% °C", "#222", ang(refDoubling.r7)]].forEach(([pt, txt, c, a]) => {
      const t = g.append("text").attr("transform", `translate(${sx(pt[0])},${sy(pt[1])}) rotate(${a})`)
        .attr("text-anchor","middle").attr("dy","0.35em").attr("font-family", SERIF).attr("font-size", 15).attr("fill", c);
      t.append("tspan").text(txt);
      t.append("tspan").attr("dy", -6).attr("font-size", 10).text("-1");
    });
    // series
    [0,1,2].forEach(s => drawSeries(g, D[s], sx, sy, s, cid));
    // frame
    g.append("rect").attr("x", L).attr("y", T).attr("width", mainW).attr("height", mainH)
      .attr("fill","none").attr("stroke","#222").attr("stroke-width", 2);
    g.append("text").attr("x", L + 25).attr("y", T + 29).attr("font-family", SANS).attr("font-size", 16)
      .attr("fill","#111").text(region);
    // x tick labels
    xTicks.forEach(v => {
      g.append("text").attr("x", sx(v)).attr("y", T + mainH + 12.5).attr("text-anchor","middle")
        .attr("font-family", SANS).attr("font-weight","bold").attr("font-size", 14).attr("fill","#111").text(v);
    });
    // y ticks
    yTicksMain.forEach(v => {
      g.append("line").attr("x1", L - 3.5).attr("x2", L).attr("y1", sy(v)).attr("y2", sy(v)).attr("stroke","#333").attr("stroke-width",1);
      if (col % 2 === 0) {
        g.append("text").attr("transform", `translate(${L - 14},${sy(v)}) rotate(-90)`).attr("text-anchor","middle")
          .attr("dy","0.36em").attr("font-family", SANS).attr("font-weight","bold").attr("font-size", 14).attr("fill","#111").text(v);
      }
    });
    if (col % 2 === 0) {
      g.append("text").attr("transform", `translate(${L - 32.5},${T + mainH / 2}) rotate(-90)`).attr("text-anchor","middle")
        .attr("dy","0.36em").attr("font-family", SANS).attr("font-weight","bold").attr("font-size", 13.5).attr("fill","#111")
        .text("Precipitation Intensity (mm/h)");
    }
    // ---- sub plot ----
    const SL = L - 0.8, ST = subTops[row];
    const bx = d3.scaleLinear().domain([-1.34, 32.9]).range([SL, SL + subW]);
    const by = d3.scaleLinear().domain([-4.6, 12.7]).range([ST, ST + subH]);
    const cid2 = "clip" + (pid++);
    defs.append("clipPath").attr("id", cid2).append("rect")
      .attr("x", SL).attr("y", ST).attr("width", subW).attr("height", subH);
    g.append("line").attr("x1", SL).attr("x2", SL + subW).attr("y1", by(0)).attr("y2", by(0))
      .attr("stroke","#111").attr("stroke-width",1.6).attr("stroke-dasharray","2,3");
    [3,4,5].forEach(s => drawSeries(g, D[s], bx, by, s - 3, cid2));
    g.append("rect").attr("x", SL).attr("y", ST).attr("width", subW).attr("height", subH)
      .attr("fill","none").attr("stroke","#222").attr("stroke-width", 2);
    xTicks.forEach(v => {
      g.append("text").attr("x", bx(v)).attr("y", ST + subH + 11.5).attr("text-anchor","middle")
        .attr("font-family", SANS).attr("font-weight","bold").attr("font-size", 13).attr("fill","#111").text(v);
    });
    g.append("text").attr("x", bx(15)).attr("y", ST + subH + 26).attr("text-anchor","middle")
      .attr("font-family", SANS).attr("font-weight","bold").attr("font-size", 13.5).attr("fill","#111").text("Ta (degree C)");
    yTicksSub.forEach((v, i) => {
      g.append("line").attr("x1", SL - 3.5).attr("x2", SL).attr("y1", by(v)).attr("y2", by(v)).attr("stroke","#333").attr("stroke-width",1);
      if (col % 2 === 0 && yTickLabelsSub[i]) {
        g.append("text").attr("transform", `translate(${SL - 12.5},${by(v)}) rotate(-90)`).attr("text-anchor","middle")
          .attr("dy","0.36em").attr("font-family", SANS).attr("font-weight","bold").attr("font-size", 13).attr("fill","#111").text(yTickLabelsSub[i]);
      }
    });
    if (col % 2 === 0) {
      g.append("text").attr("transform", `translate(${SL - 28},${ST + subH / 2 - 4}) rotate(-90)`).attr("text-anchor","middle")
        .attr("dy","0.36em").attr("font-family", SANS).attr("font-weight","bold").attr("font-size", 13.5).attr("fill","#111").text("Ta-Td (K)");
    }
  }
});

// ---------------- LEGEND ----------------
const legX = [[463, 497, 517], [618, 652, 672], [760, 795, 815]];
seriesNames.forEach((n, i) => {
  svg.append("line").attr("x1", legX[i][0]).attr("x2", legX[i][1]).attr("y1", 1606).attr("y2", 1606)
    .attr("stroke", colors[i]).attr("stroke-width", 10).attr("stroke-linecap","round");
  svg.append("text").attr("x", legX[i][2]).attr("y", 1613).attr("font-family", SANS).attr("font-weight","bold")
    .attr("font-size", 20).attr("fill","#111").text(n);
});
</script></body></html>
